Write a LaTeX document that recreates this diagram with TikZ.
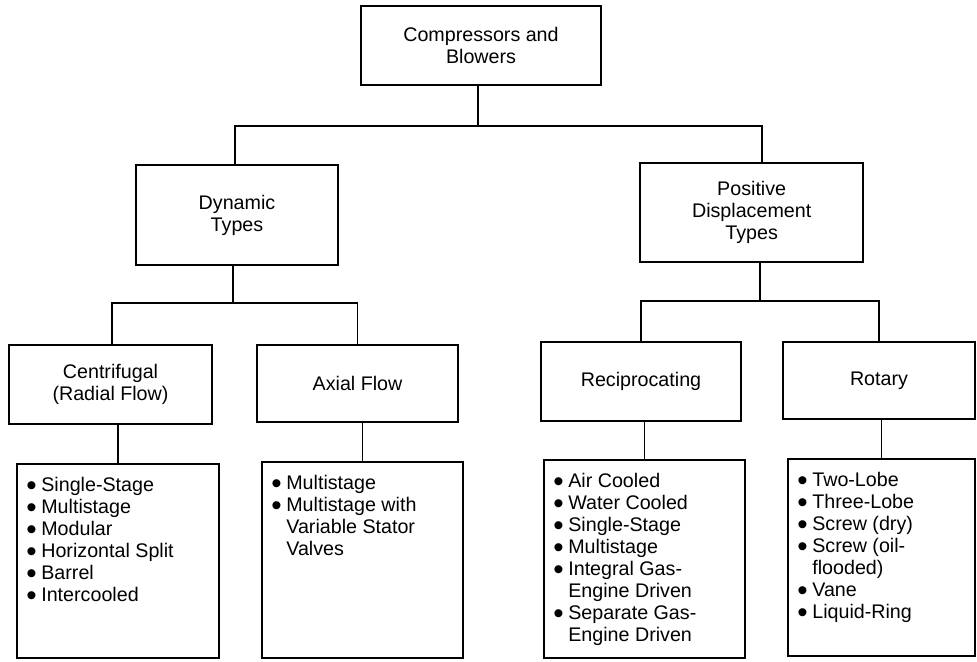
\documentclass[tikz,border=0pt]{standalone}
\usepackage{fontspec}
\setmainfont{Liberation Sans}
\usepackage{tikz}
\usetikzlibrary{positioning,calc}

\newcommand{\itm}{\par\hangindent=0.45cm\hangafter=1\noindent\makebox[0.45cm][l]{\raisebox{-3pt}{\scalebox{1.5}{\textbullet}}}}
\newcommand{\itemlist}[3]{\parbox[c][#2][t]{#1}{\raggedright #3}}

\begin{document}
\begin{tikzpicture}[
    typebox/.style={rectangle, draw, line width=1.5pt, inner sep=0pt, align=center, font=\fontsize{16.8}{18.8}\selectfont},
    listbox/.style={rectangle, draw, line width=1.5pt, inner sep=0pt, font=\fontsize{16.8}{18.8}\selectfont},
    link/.style={line width=1.5pt}
]
\useasboundingbox (0,0) rectangle (29.31,-19.83);

\node[typebox, minimum width=7.2cm, minimum height=2.37cm] (cb) at (14.43,-1.365) {Compressors and\\Blowers};

\node[typebox, minimum width=6.06cm, minimum height=3.0cm] (dyn) at (7.11,-6.45) {Dynamic\\Types};
\node[typebox, minimum width=6.69cm, minimum height=2.97cm] (pd) at (22.55,-6.375) {Positive\\Displacement\\Types};

\node[typebox, minimum width=6.09cm, minimum height=2.37cm] (cen) at (3.315,-11.535) {Centrifugal\\(Radial Flow)};
\node[typebox, minimum width=6.03cm, minimum height=2.31cm] (axi) at (10.725,-11.505) {Axial Flow};
\node[typebox, minimum width=6.0cm, minimum height=2.37cm] (rec) at (19.23,-11.445) {Reciprocating};
\node[typebox, minimum width=5.76cm, minimum height=2.31cm] (rot) at (26.37,-11.415) {Rotary};

\node[listbox, minimum width=6.06cm, minimum height=5.82cm] (cenl) at (3.54,-16.83)
    {\itemlist{5.5cm}{5.02cm}{\itm Single-Stage \itm Multistage \itm Modular \itm Horizontal Split \itm Barrel \itm Intercooled}};
\node[listbox, minimum width=6.03cm, minimum height=5.88cm] (axil) at (10.875,-16.8)
    {\itemlist{5.47cm}{5.08cm}{\itm Multistage \itm Multistage with\newline Variable Stator\newline Valves}};
\node[listbox, minimum width=6.03cm, minimum height=5.94cm] (recl) at (19.335,-16.77)
    {\itemlist{5.47cm}{5.14cm}{\itm Air Cooled \itm Water Cooled \itm Single-Stage \itm Multistage \itm Integral Gas-\newline Engine Driven \itm Separate Gas-\newline Engine Driven}};
\node[listbox, minimum width=5.61cm, minimum height=5.91cm] (rotl) at (26.445,-16.725)
    {\itemlist{5.05cm}{5.11cm}{\itm Two-Lobe \itm Three-Lobe \itm Screw (dry) \itm Screw (oil-\newline flooded) \itm Vane \itm Liquid-Ring}};

\coordinate (j0) at (14.34,-3.78);
\draw[link] (cb.south -| j0) -- (j0);
\draw[link] ([xshift=-0.06cm]dyn.north) |- (j0) -| ([xshift=0.3cm]pd.north);

\coordinate (j1) at (6.99,-9.09);
\draw[link] (dyn.south -| j1) -- (j1);
\draw[link] ([xshift=0.05cm]cen.north) |- (j1) -| (axi.north);

\coordinate (j2) at (22.8,-9.03);
\draw[link] (pd.south -| j2) -- (j2);
\draw[link] (rec.north) |- (j2) -| (rot.north);

\foreach \a/\b in {cen/cenl,axi/axil,rec/recl,rot/rotl}{\draw[link] (\b.north) -- (\b.north |- \a.south);}
\end{tikzpicture}
\end{document}
